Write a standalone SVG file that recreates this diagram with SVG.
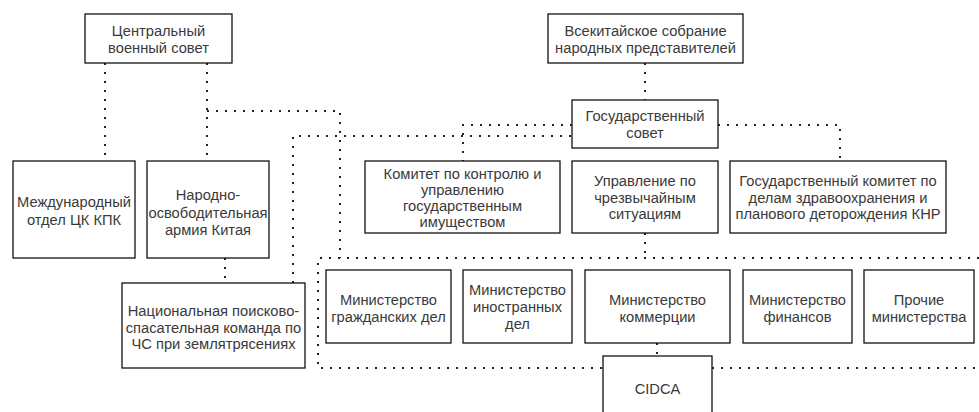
<svg xmlns="http://www.w3.org/2000/svg" width="979" height="412" viewBox="0 0 979 412">
<style>
.box{fill:#fff;stroke:#111;stroke-width:1.3}
.t{font-family:"Liberation Sans",Arial,sans-serif;font-size:14.7px;fill:#3a3a3a;text-anchor:middle;dominant-baseline:central}
.c{fill:none;stroke:#222;stroke-width:2;stroke-dasharray:2 7}
</style>
<rect width="979" height="412" fill="#fff"/>
<g id="connectors">
<path class="c" d="M105,63V161"/>
<path class="c" d="M207,63V161"/>
<path class="c" d="M207,111H340V258"/>
<path class="c" d="M225,258V283"/>
<path class="c" d="M293,283V136H572"/>
<path class="c" d="M572,125H463V161"/>
<path class="c" d="M645,63V100"/>
<path class="c" d="M718,125H840V161"/>
<path class="c" d="M645,233V258"/>
<path class="c" d="M979,258H318V368H603"/>
<path class="c" d="M712,368H979"/>
<path class="c" d="M657,343V356"/>
</g>
<g id="cmc"><rect class="box" x="85" y="14" width="147" height="49"/><text class="t" x="158.5" y="31">Центральный</text><text class="t" x="158.5" y="48">военный совет</text></g>
<g id="npc"><rect class="box" x="548" y="14" width="195" height="49"/><text class="t" x="645.5" y="31">Всекитайское собрание</text><text class="t" x="645.5" y="48">народных представителей</text></g>
<g id="state-council"><rect class="box" x="572" y="100" width="146" height="48"/><text class="t" x="645" y="116">Государственный</text><text class="t" x="645" y="133">совет</text></g>
<g id="intl-dept"><rect class="box" x="13" y="161" width="122" height="97"/><text class="t" x="74" y="202">Международный</text><text class="t" x="74" y="219.5">отдел ЦК КПК</text></g>
<g id="pla"><rect class="box" x="147" y="161" width="122" height="97"/><text class="t" x="208" y="195">Народно-</text><text class="t" x="208" y="212.5">освободительная</text><text class="t" x="208" y="230">армия Китая</text></g>
<g id="rescue"><rect class="box" x="122" y="283" width="183" height="85"/><text class="t" x="213.5" y="311">Национальная поисково-</text><text class="t" x="213.5" y="327.5">спасательная команда по</text><text class="t" x="213.5" y="344">ЧС при землятрясениях</text></g>
<g id="sasac"><rect class="box" x="365" y="161" width="195" height="72"/><text class="t" x="462.5" y="174">Комитет по контролю и</text><text class="t" x="462.5" y="190">управлению</text><text class="t" x="462.5" y="206">государственным</text><text class="t" x="462.5" y="222">имуществом</text></g>
<g id="emergency"><rect class="box" x="572" y="161" width="146" height="72"/><text class="t" x="645" y="181">Управление по</text><text class="t" x="645" y="197.5">чрезвычайным</text><text class="t" x="645" y="214">ситуациям</text></g>
<g id="health"><rect class="box" x="730" y="161" width="216" height="72"/><text class="t" x="838" y="181">Государственный комитет по</text><text class="t" x="838" y="197.5">делам здравоохранения и</text><text class="t" x="838" y="214">планового деторождения КНР</text></g>
<g id="civil"><rect class="box" x="326" y="270" width="125" height="73"/><text class="t" x="388.5" y="300">Министерство</text><text class="t" x="388.5" y="317">гражданских дел</text></g>
<g id="foreign"><rect class="box" x="463" y="270" width="109" height="73"/><text class="t" x="517.5" y="290">Министерство</text><text class="t" x="517.5" y="307">иностранных</text><text class="t" x="517.5" y="324">дел</text></g>
<g id="commerce"><rect class="box" x="585" y="270" width="145" height="73"/><text class="t" x="657.5" y="300">Министерство</text><text class="t" x="657.5" y="317">коммерции</text></g>
<g id="finance"><rect class="box" x="743" y="270" width="109" height="73"/><text class="t" x="797.5" y="300">Министерство</text><text class="t" x="797.5" y="317">финансов</text></g>
<g id="other"><rect class="box" x="864" y="270" width="110" height="73"/><text class="t" x="919" y="300">Прочие</text><text class="t" x="919" y="317">министерства</text></g>
<g id="cidca"><rect class="box" x="603" y="356" width="109" height="70"/><text class="t" x="657.5" y="389">CIDCA</text></g>
</svg>
